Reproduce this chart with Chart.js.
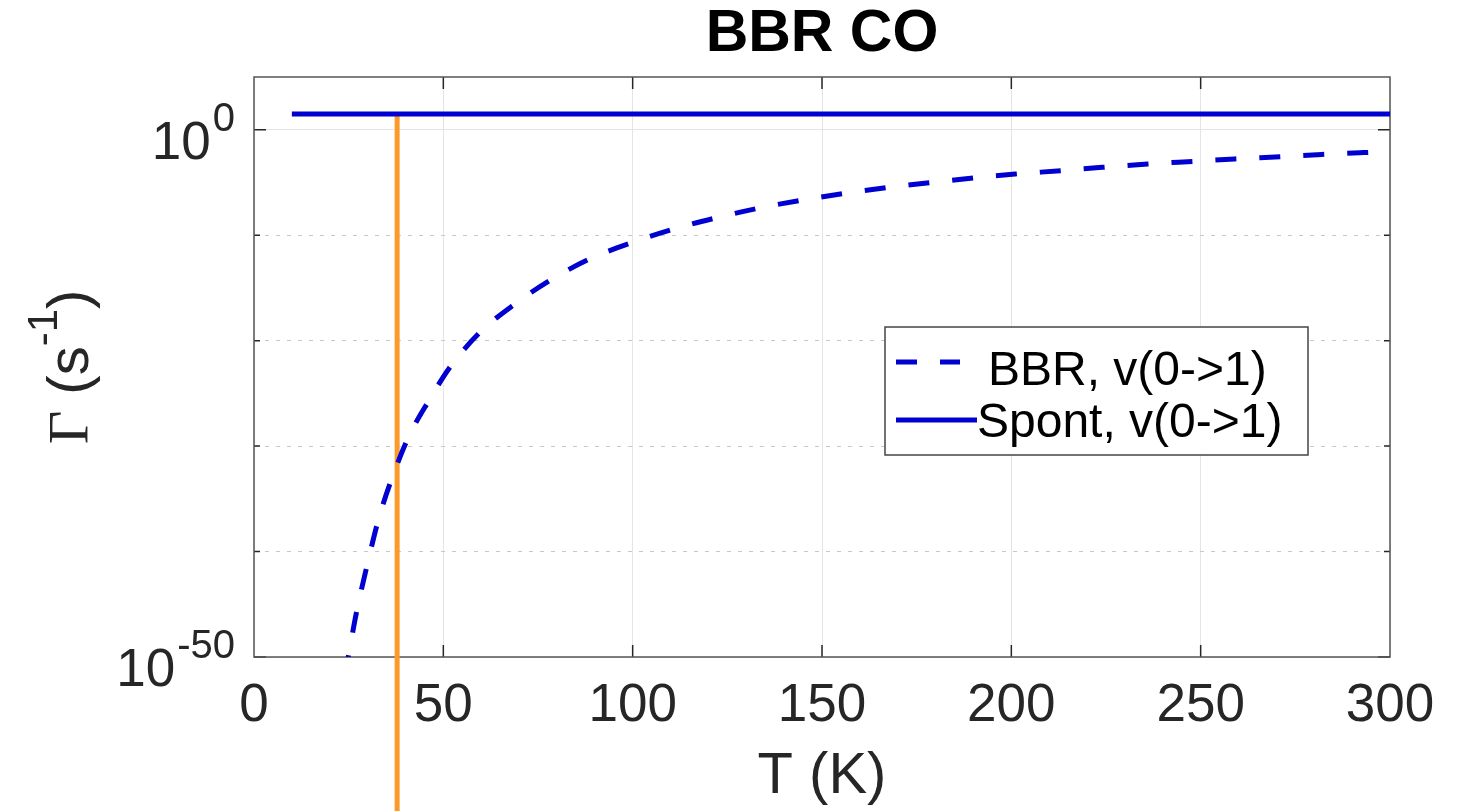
<!DOCTYPE html>
<html>
<head>
<meta charset="utf-8">
<title>BBR CO</title>
<script src="https://cdn.jsdelivr.net/npm/chart.js@4.4.0/dist/chart.umd.min.js"></script>
<style>
  html, body { margin: 0; padding: 0; background: #fff; }
  canvas { display: block; }
</style>
</head>
<body>
<canvas id="bbrChart" width="1463" height="811"></canvas>
<script>
/*
    Blackbody-driven vs spontaneous rate for CO v(0->1)
*/
var bbrTemp = [24, 25, 27, 30, 33, 37, 41, 46, 52, 60, 69, 79, 89, 100, 111, 122, 133, 144,
               156, 167, 179, 190, 201, 213, 224, 236, 248, 259, 271, 282, 293, 300];
var bbrRate = [1.6e-52, 1.6e-50, 1.3e-46, 7.9e-42, 1.6e-37, 3.2e-33, 1.0e-29, 1.6e-26, 4.0e-23,
               7.9e-20, 3.2e-17, 7.9e-15, 6.3e-13, 2.1e-11, 4.0e-10, 4.4e-9, 3.5e-8, 1.9e-7,
               9.3e-7, 3.2e-6, 1.0e-5, 2.7e-5, 6.3e-5, 1.3e-4, 2.7e-4, 5.6e-4, 1.0e-3, 1.7e-3,
               2.8e-3, 4.5e-3, 6.8e-3, 8.7e-3];
var spontTemp = [10, 300];
var spontRate = [31, 31];
// vertical marker at T = 37.8 K
var markerTemp = [37.8, 37.8];
var markerRate = [31, 1e-70];

var xTicks = [0, 50, 100, 150, 200, 250, 300];
var yMajor = [1e-50, 1e0];
var yMinor = [1e-40, 1e-30, 1e-20, 1e-10];
var yTickBase = ['10', '10'];
var yTickExp = ['-50', '0'];

var SANS = '"Liberation Sans", Arial, Helvetica, sans-serif';
var SERIF = '"Liberation Serif", "Times New Roman", serif';
var AXIS = '#262626';

function pairs(xs, ys) {
    return xs.map(function (x, i) { return {x: x, y: ys[i]}; });
}

function isMinor(v) {
    return yMinor.indexOf(v) !== -1;
}

/* box, inward ticks, y labels, y title and legend drawn in the MATLAB style */
var matlabAxes = {
    id: 'matlabAxes',
    beforeDatasetsDraw: function (chart) {
        var ctx = chart.ctx, a = chart.chartArea;
        var xs = chart.scales.x, ys = chart.scales.y;
        ctx.save();
        ctx.strokeStyle = AXIS;
        ctx.lineWidth = 1.5;
        ctx.beginPath();
        xTicks.forEach(function (t) {
            if (t === xs.min || t === xs.max) return;
            var px = xs.getPixelForValue(t);
            ctx.moveTo(px, a.bottom); ctx.lineTo(px, a.bottom - 12);
            ctx.moveTo(px, a.top); ctx.lineTo(px, a.top + 12);
        });
        yMajor.concat(yMinor).forEach(function (v) {
            var py = ys.getPixelForValue(v);
            var len = isMinor(v) ? 6 : 12;
            ctx.moveTo(a.left, py); ctx.lineTo(a.left + len, py);
            ctx.moveTo(a.right, py); ctx.lineTo(a.right - len, py);
        });
        ctx.stroke();
        ctx.strokeStyle = '#555';
        ctx.lineWidth = 1.5;
        ctx.strokeRect(a.left, a.top, a.right - a.left, a.bottom - a.top);
        ctx.restore();
    },
    afterDraw: function (chart) {
        var ctx = chart.ctx, a = chart.chartArea;
        var ys = chart.scales.y;
        ctx.save();
        ctx.fillStyle = AXIS;
        ctx.textBaseline = 'alphabetic';

        // y tick labels: 10 with a raised exponent
        yMajor.forEach(function (v, i) {
            var py = ys.getPixelForValue(v);
            var right = a.left - 19;
            ctx.font = '40px ' + SANS;
            ctx.textAlign = 'right';
            ctx.fillText(yTickExp[i], right, py + 1);
            var w = ctx.measureText(yTickExp[i]).width;
            ctx.font = '53px ' + SANS;
            ctx.fillText(yTickBase[i], right - w - 2, py + 29);
        });

        // y axis title, rotated
        var parts = [
            {t: '\u0393', f: '58px ' + SERIF, dy: 0},
            {t: ' (s', f: '58px ' + SANS, dy: 0},
            {t: '-1', f: '42px ' + SANS, dy: -31},
            {t: ')', f: '58px ' + SANS, dy: 0}
        ];
        var total = 0;
        parts.forEach(function (p) {
            ctx.font = p.f;
            p.w = ctx.measureText(p.t).width;
            total += p.w;
        });
        ctx.translate(88, (a.top + a.bottom) / 2);
        ctx.rotate(-Math.PI / 2);
        ctx.textAlign = 'left';
        var cx = -total / 2;
        parts.forEach(function (p) {
            ctx.font = p.f;
            ctx.fillText(p.t, cx, p.dy);
            cx += p.w;
        });
        ctx.setTransform(1, 0, 0, 1, 0, 0);

        // legend
        var lx = 885, ly = 327, lw = 423, lh = 128;
        ctx.fillStyle = '#fff';
        ctx.fillRect(lx, ly, lw, lh);
        ctx.strokeStyle = '#444';
        ctx.lineWidth = 1.5;
        ctx.strokeRect(lx, ly, lw, lh);
        var rows = [
            {ds: chart.data.datasets[0], y: 362, x1: 960, tx: 988, base: 385},
            {ds: chart.data.datasets[1], y: 420, x1: 977, tx: 977, base: 437}
        ];
        rows.forEach(function (r) {
            ctx.strokeStyle = r.ds.borderColor;
            ctx.lineWidth = r.ds.borderWidth;
            ctx.setLineDash(r.ds.borderDash || []);
            ctx.beginPath();
            ctx.moveTo(896, r.y);
            ctx.lineTo(r.x1, r.y);
            ctx.stroke();
            ctx.setLineDash([]);
            ctx.fillStyle = '#000';
            ctx.font = '48px ' + SANS;
            ctx.textAlign = 'left';
            ctx.fillText(r.ds.label, r.tx, r.base);
        });
        ctx.restore();
    }
};

var ctxB = document.getElementById('bbrChart').getContext('2d');
var bbrChart = new Chart(ctxB, {
    type: 'line',
    data: {
        datasets: [{
            label: 'BBR, v(0->1)',
            data: pairs(bbrTemp, bbrRate),
            borderColor: '#0000d0',
            borderWidth: 5,
            borderDash: [21, 23],
            cubicInterpolationMode: 'monotone',
            pointRadius: 0,
            fill: false
        }, {
            label: 'Spont, v(0->1)',
            data: pairs(spontTemp, spontRate),
            borderColor: '#0000d0',
            borderWidth: 5,
            pointRadius: 0,
            fill: false
        }, {
            label: 'T marker',
            data: pairs(markerTemp, markerRate),
            borderColor: '#fb9a2a',
            borderWidth: 5,
            pointRadius: 0,
            fill: false,
            clip: false
        }]
    },
    options: {
        responsive: false,
        animation: false,
        events: [],
        layout: {
            padding: {top: 0, right: 73, bottom: 0, left: 0}
        },
        plugins: {
            legend: {display: false},
            tooltip: {enabled: false},
            title: {
                display: true,
                fullSize: false,
                text: 'BBR CO',
                color: '#000',
                font: {family: SANS, size: 59, weight: 'bold', lineHeight: 1},
                padding: {top: 5, bottom: 13}
            }
        },
        scales: {
            x: {
                type: 'linear',
                min: 0,
                max: 300,
                afterBuildTicks: function (s) {
                    s.ticks = xTicks.map(function (v) { return {value: v}; });
                },
                afterFit: function (s) { s.height = 154; },
                grid: {color: '#e4e4e4', lineWidth: 1, drawTicks: false},
                border: {display: false},
                ticks: {
                    color: AXIS,
                    font: {family: SANS, size: 53},
                    padding: 18,
                    maxRotation: 0,
                    autoSkip: false
                },
                title: {
                    display: true,
                    text: 'T (K)',
                    color: AXIS,
                    font: {family: SANS, size: 58, lineHeight: 1.16},
                    padding: {top: 0, bottom: 0}
                }
            },
            y: {
                type: 'logarithmic',
                min: 1e-50,
                max: 1e5,
                afterBuildTicks: function (s) {
                    s.ticks = yMajor.concat(yMinor).map(function (v) { return {value: v}; });
                },
                afterFit: function (s) { s.width = 254; },
                grid: {
                    color: function (c) {
                        return c.tick && isMinor(c.tick.value) ? '#c8c8c8' : '#e4e4e4';
                    },
                    lineWidth: 1,
                    drawTicks: false
                },
                border: {
                    display: false,
                    dash: function (c) {
                        return c.tick && isMinor(c.tick.value) ? [4, 7] : [];
                    }
                },
                ticks: {display: false}
            }
        }
    },
    plugins: [matlabAxes]
});
</script>
</body>
</html>
